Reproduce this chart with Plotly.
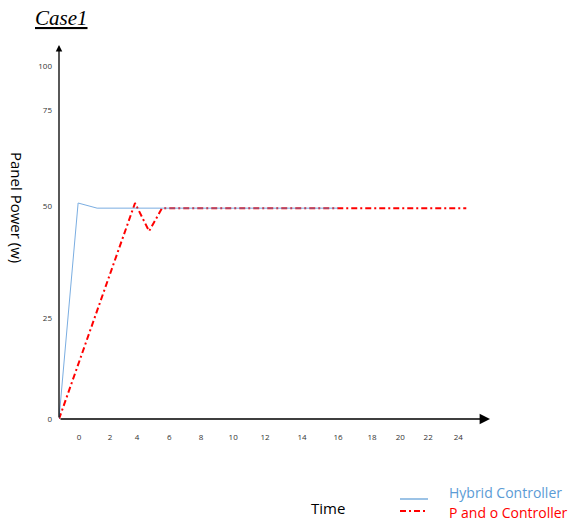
import plotly.graph_objects as go

# Time axis: tick labels and where they sit along the axis
x_tick_labels = ["0", "2", "4", "6", "8", "10", "12", "14", "16", "18", "20", "22", "24"]
x_tick_pos = [0.0, 1.96, 3.67, 5.70, 7.72, 9.75, 11.77, 14.11, 16.39, 18.54, 20.32, 22.09, 23.99]

# Power axis: tick labels and positions
y_tick_labels = ["0", "25", "50", "75", "100"]
y_tick_pos = [0.0, 23.7, 50.0, 72.5, 82.9]

# Hybrid controller response
hybrid_t = [-1.27, -0.06, 1.14, 16.39]
hybrid_p = [0.0, 50.7, 49.5, 49.5]

# Perturb & observe controller response
po_t = [-1.27, 3.54, 4.43, 5.25, 24.5]
po_p = [0.0, 50.7, 44.1, 49.5, 49.5]

series_names = ["Hybrid Controller", "P and o Controller"]

X_MIN, X_MAX = -1.27, 26.0
Y_MIN, Y_MAX = 0.0, 87.8

BLUE = "#5b9bd5"
RED = "#ff0000"
PO_DASH = "6px,3px,2px,3px"

W, H = 575, 522
L, R, T, B = 59, 85, 45, 103
pw, ph = W - L - R, H - T - B


def px(x):
    return (x - L) / pw


def py(y):
    return 1 - (y - T) / ph


fig = go.Figure()

fig.add_trace(go.Scatter(
    x=po_t, y=po_p, mode="lines", name=series_names[1], showlegend=False,
    line=dict(color=RED, width=2, dash=PO_DASH),
))
fig.add_trace(go.Scatter(
    x=hybrid_t, y=hybrid_p, mode="lines", name=series_names[0], showlegend=False,
    line=dict(color="#4f93d8", width=1), opacity=0.75,
))

# Axis arrows
fig.add_annotation(x=X_MAX, y=0, ax=X_MIN, ay=0, xref="x", yref="y",
                   axref="x", ayref="y", showarrow=True, arrowhead=2,
                   arrowsize=1.3, arrowwidth=1.6, arrowcolor="#000000", text="")
fig.add_annotation(x=X_MIN, y=Y_MAX, ax=X_MIN, ay=0, xref="x", yref="y",
                   axref="x", ayref="y", showarrow=True, arrowhead=2,
                   arrowsize=1.0, arrowwidth=1.3, arrowcolor="#000000", text="")

# Titles
fig.add_annotation(x=px(33), y=py(18), xref="paper", yref="paper",
                   text="<i><u>Case1</u></i>", showarrow=False,
                   xanchor="left", yanchor="middle",
                   font=dict(family="Liberation Serif", size=21, color="#000000"))
fig.add_annotation(text="Panel Power (w)", textangle=90, showarrow=False,
                   xref="paper", yref="paper", x=px(17), y=py(207),
                   xanchor="center", yanchor="middle",
                   font=dict(family="Open Sans", size=15, color="#000000"))
fig.add_annotation(text="Time", showarrow=False, xref="paper", yref="paper",
                   x=px(328), y=py(508), xanchor="center", yanchor="middle",
                   font=dict(family="Open Sans", size=15, color="#000000"))

# Key: line samples with coloured labels
key_rows = [(series_names[0], BLUE, "solid", 1.2, 499, 493),
            (series_names[1], RED, PO_DASH, 2, 511, 512)]
for name, col, dash, w, ly, ty in key_rows:
    fig.add_shape(type="line", xref="paper", yref="paper",
                  x0=px(400), x1=px(428), y0=py(ly), y1=py(ly),
                  line=dict(color=col, width=w, dash=dash))
    fig.add_annotation(text=name, showarrow=False, xref="paper", yref="paper",
                       x=px(447), y=py(ty), xanchor="left", yanchor="middle",
                       font=dict(family="Open Sans", size=14, color=col))

fig.update_layout(
    width=W, height=H,
    margin=dict(l=L, r=R, t=T, b=B, pad=0, autoexpand=False),
    paper_bgcolor="#ffffff", plot_bgcolor="#ffffff",
    showlegend=False,
    xaxis=dict(range=[X_MIN, X_MAX], tickvals=x_tick_pos, ticktext=x_tick_labels,
               showgrid=False, zeroline=False, showline=False, ticks="",
               tickfont=dict(family="Open Sans", size=8, color="#333333"),
               ticklabelstandoff=12),
    yaxis=dict(range=[Y_MIN, Y_MAX], tickvals=y_tick_pos, ticktext=y_tick_labels,
               showgrid=False, zeroline=False, showline=False, ticks="",
               tickfont=dict(family="Open Sans", size=8, color="#333333"),
               ticklabelstandoff=6),
)

fig.write_html("out.html")
